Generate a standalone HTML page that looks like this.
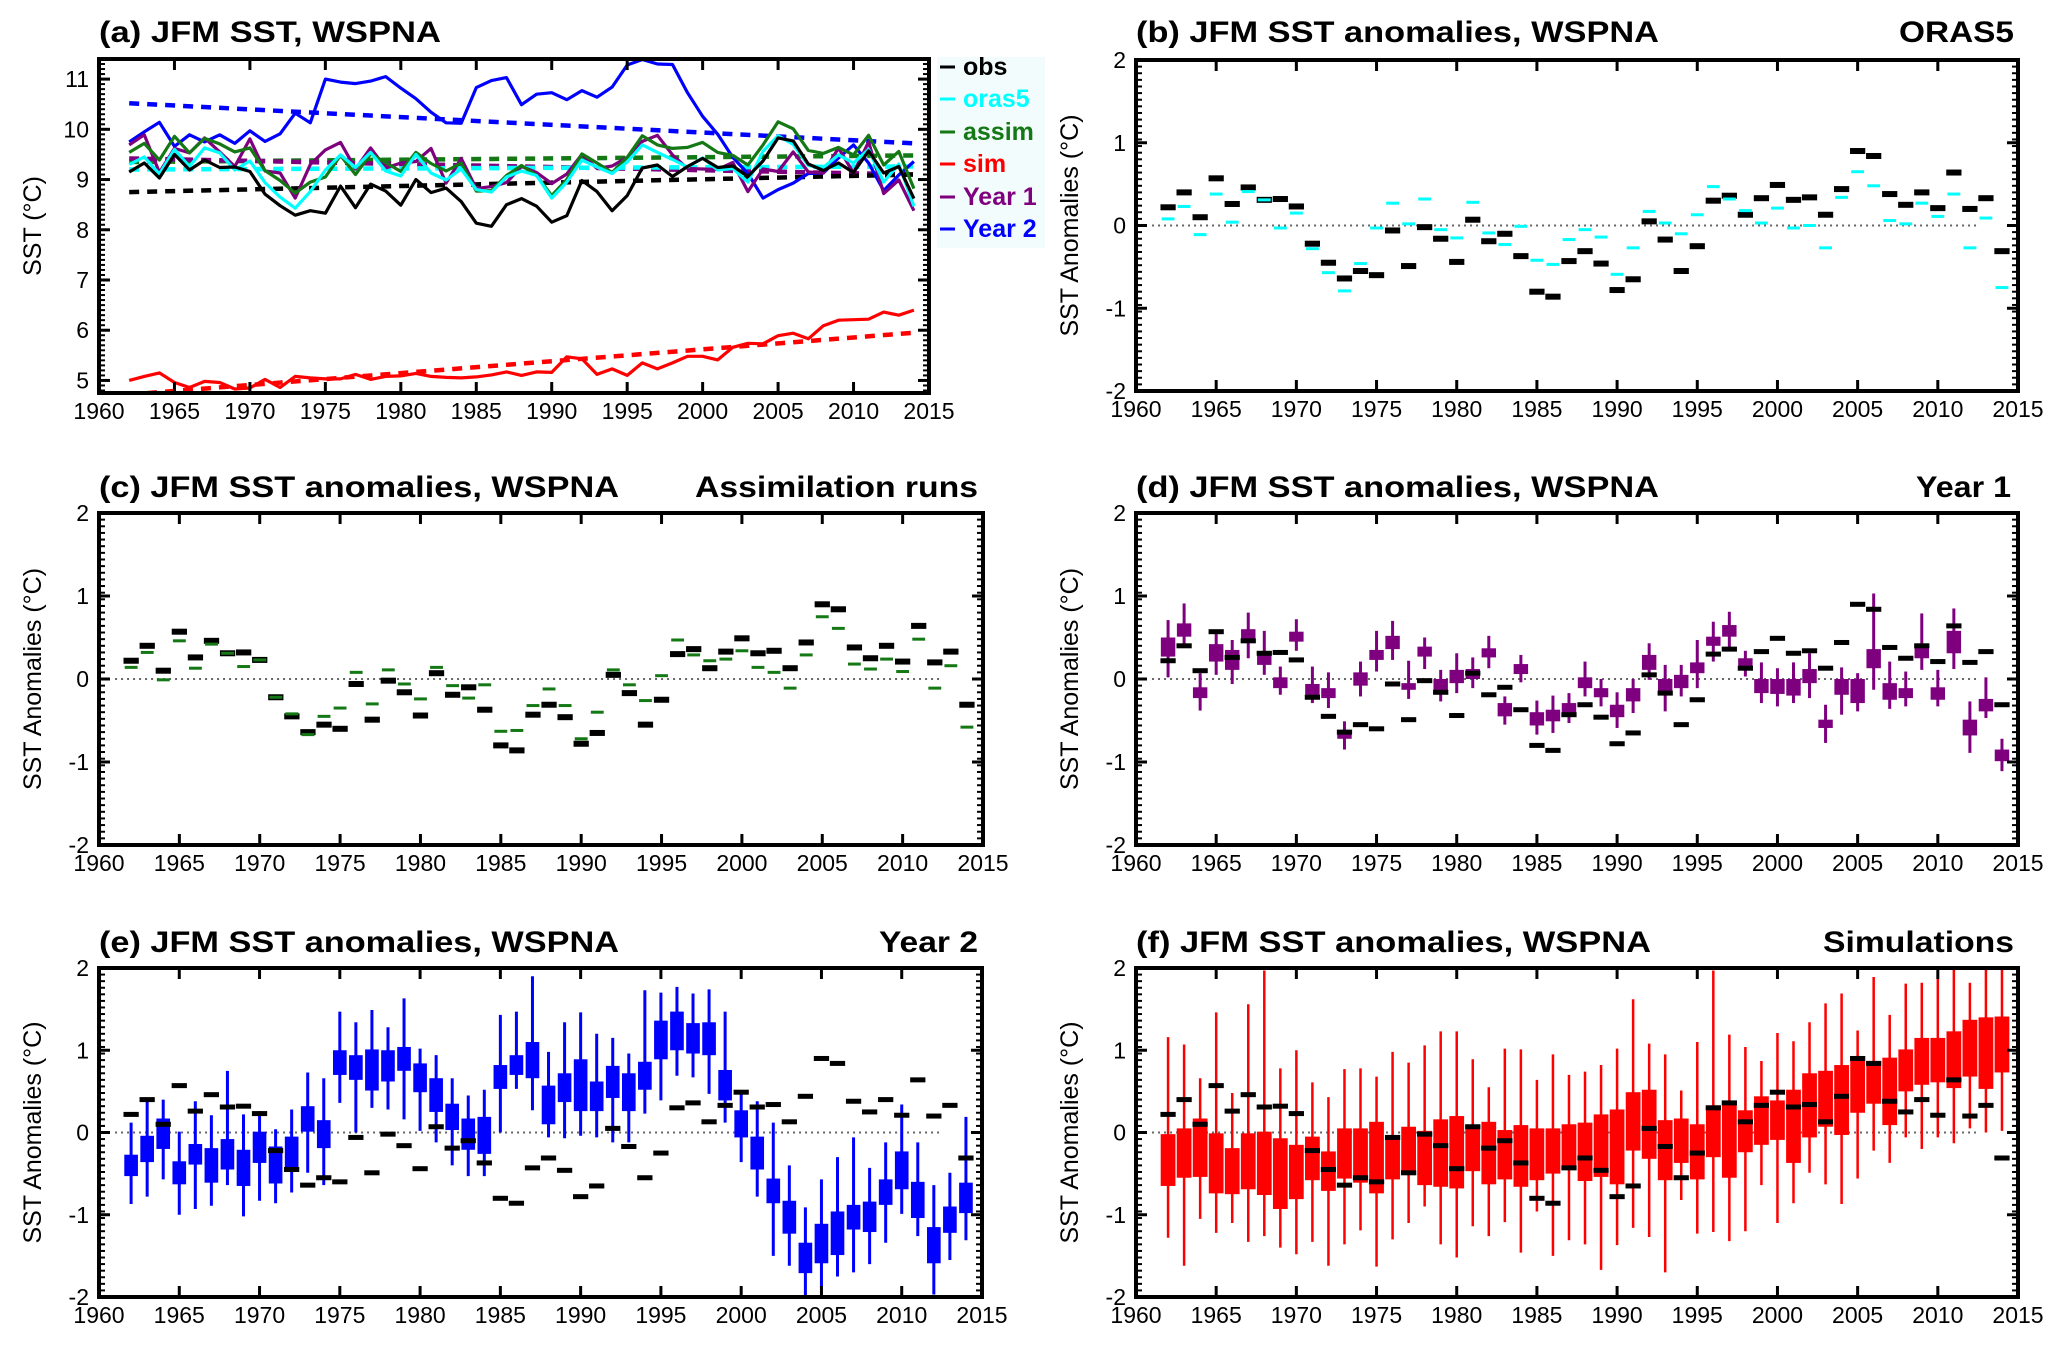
<!DOCTYPE html>
<html><head><meta charset="utf-8"><style>
html,body{margin:0;padding:0;background:#fff;}
svg{display:block;font-family:"Liberation Sans",Arial,sans-serif;}
</style></head><body>
<svg id="fig" width="2067" height="1348" viewBox="0 0 2067 1348" xmlns="http://www.w3.org/2000/svg"></svg>
<script>
// ---------- DATA ----------
const years = [];
for (let y = 1962; y <= 2014; y++) years.push(y);
const xTickLabels = ['1960','1965','1970','1975','1980','1985','1990','1995','2000','2005','2010','2015'];
const yTickLabelsA = ['5','6','7','8','9','10','11'];
const yTickLabelsAnom = ['-2','-1','0','1','2'];

// Panel (a) absolute SST (deg C)
const sstObs = [9.15,9.33,9.03,9.50,9.19,9.39,9.24,9.25,9.16, 8.71,8.48,8.29,8.38,8.33,8.87,8.44,8.91,8.77,8.49, 9.00,8.74,8.83,8.56,8.13,8.07,8.50,8.62,8.47,8.15, 8.28,8.98,8.76,8.38,8.68,9.23,9.29,9.06,9.26,9.42, 9.24,9.27,9.06,9.37,9.83,9.77,9.31,9.18,9.33,9.14, 9.57,9.13,9.26,8.62];
const sstOras5 = [9.30,9.45,9.11,9.60,9.26,9.63,9.53,9.19,9.37, 8.94,8.65,8.43,8.76,9.19,9.49,9.24,9.54,9.17,9.07, 9.50,9.13,8.99,9.21,8.80,8.75,9.05,9.17,9.08,8.63, 8.95,9.39,9.25,9.12,9.35,9.69,9.54,9.40,9.25,9.43, 9.19,9.22,8.95,9.56,9.87,9.70,9.28,9.24,9.49,9.33, 9.60,8.95,9.31,8.47];
const sstAssim = [9.54,9.72,9.39,9.86,9.53,9.82,9.71,9.55,9.63, 9.18,8.98,8.73,8.95,9.05,9.48,9.10,9.51,9.34,9.16, 9.54,9.32,9.17,9.33,8.77,8.78,9.08,9.28,9.08,8.68, 9.00,9.51,9.33,9.14,9.44,9.87,9.69,9.62,9.64,9.74, 9.54,9.48,9.29,9.69,10.15,10.01,9.58,9.52,9.64,9.49, 9.88,9.29,9.56,8.82];
const sstSim = [5.00,5.08,5.15,4.96,4.86,4.98,4.96,4.83,4.85, 5.02,4.86,5.08,5.05,5.03,5.03,5.12,5.02,5.08,5.09, 5.14,5.08,5.06,5.05,5.07,5.11,5.17,5.10,5.17,5.16, 5.47,5.43,5.12,5.23,5.10,5.35,5.23,5.35,5.48,5.48, 5.41,5.66,5.74,5.73,5.89,5.94,5.83,6.09,6.20,6.21, 6.22,6.36,6.30,6.40];
const sstYear1 = [9.69,9.89,9.14,9.62,9.53,9.83,9.55,9.26,9.81, 9.17,9.13,8.63,9.30,9.59,9.74,9.21,9.63,9.23,9.33, 9.36,9.62,8.93,9.42,8.82,8.86,8.94,9.26,9.14,8.92, 9.11,9.50,9.22,9.27,9.44,9.76,9.88,9.49,9.22,9.21, 9.20,9.34,8.76,9.21,9.16,9.55,9.15,9.13,9.63,9.13, 9.75,8.72,8.99,8.38];
const sstYear2 = [9.75,9.95,10.14,9.66,9.89,9.75,9.89,9.72,9.97, 9.76,9.91,10.32,10.13,11.00,10.94,10.91,10.96,11.05,10.82, 10.61,10.34,10.13,10.12,10.83,10.97,11.03,10.49,10.70,10.73, 10.59,10.77,10.64,10.84,11.28,11.39,11.30,11.29,10.73,10.26, 9.90,9.44,9.12,8.63,8.80,8.93,9.12,9.13,9.43,9.69, 9.33,8.78,9.09,9.36];
// linear trend endpoints (1962, 2014)
const trendObs = [8.75, 9.10];
const trendOras5 = [9.20, 9.26];
const trendAssim = [9.35, 9.48];
const trendSim = [4.72, 5.95];
const trendYear1 = [9.42, 9.10];
const trendYear2 = [10.52, 9.72];

// Anomalies
const anomObs = [0.22,0.40,0.10,0.57,0.26,0.46,0.31,0.32,0.23,-0.22,-0.45,-0.64,-0.55,-0.60,-0.06,-0.49,-0.02,-0.16,-0.44,0.07,-0.19,-0.10,-0.37,-0.80,-0.86,-0.43,-0.31,-0.46,-0.78,-0.65,0.05,-0.17,-0.55,-0.25,0.30,0.36,0.13,0.33,0.49,0.31,0.34,0.13,0.44,0.90,0.84,0.38,0.25,0.40,0.21,0.64,0.20,0.33,-0.31];
const anomOras5 = [0.08,0.23,-0.11,0.38,0.04,0.41,0.31,-0.03,0.15,-0.28,-0.57,-0.79,-0.46,-0.03,0.27,0.02,0.32,-0.05,-0.15,0.28,-0.09,-0.23,-0.01,-0.42,-0.47,-0.17,-0.05,-0.14,-0.59,-0.27,0.17,0.03,-0.10,0.13,0.47,0.32,0.18,0.03,0.21,-0.03,0.00,-0.27,0.34,0.65,0.48,0.06,0.02,0.27,0.11,0.38,-0.27,0.09,-0.75];
const anomAssim = [0.14,0.32,-0.01,0.46,0.13,0.42,0.31,0.15,0.23,-0.22,-0.42,-0.67,-0.45,-0.35,0.08,-0.30,0.11,-0.06,-0.24,0.14,-0.08,-0.23,-0.07,-0.63,-0.62,-0.32,-0.12,-0.32,-0.72,-0.40,0.11,-0.07,-0.26,0.04,0.47,0.29,0.22,0.24,0.34,0.14,0.08,-0.11,0.29,0.75,0.61,0.18,0.12,0.24,0.09,0.48,-0.11,0.16,-0.58];

// Year 1 ensemble: box top, box bottom, whisker top, whisker bottom
const y1BoxHi = [0.50,0.67,-0.10,0.42,0.35,0.60,0.33,0.02,0.57,-0.06,-0.11,-0.62,0.08,0.35,0.52,-0.05,0.39,0.00,0.11,0.12,0.37,-0.29,0.18,-0.40,-0.37,-0.29,0.02,-0.11,-0.31,-0.11,0.29,0.00,0.05,0.20,0.51,0.65,0.25,0.00,0.00,0.00,0.12,-0.49,0.00,0.00,0.36,-0.05,-0.11,0.41,-0.10,0.58,-0.49,-0.24,-0.85];
const y1BoxLo = [0.27,0.51,-0.23,0.21,0.11,0.46,0.17,-0.11,0.45,-0.21,-0.23,-0.72,-0.08,0.23,0.36,-0.13,0.27,-0.15,-0.05,0.00,0.26,-0.45,0.06,-0.56,-0.51,-0.43,-0.11,-0.22,-0.46,-0.27,0.11,-0.17,-0.11,0.07,0.40,0.51,0.13,-0.17,-0.18,-0.20,-0.05,-0.59,-0.19,-0.29,0.13,-0.25,-0.23,0.25,-0.25,0.31,-0.68,-0.39,-0.99];
const y1WhHi = [0.71,0.91,0.07,0.59,0.47,0.80,0.58,0.15,0.72,0.15,0.08,-0.51,0.21,0.58,0.70,0.22,0.50,0.11,0.31,0.26,0.52,-0.21,0.29,-0.26,-0.20,-0.17,0.21,0.00,-0.16,0.00,0.43,0.17,0.17,0.47,0.69,0.81,0.34,0.20,0.13,0.20,0.31,-0.31,0.14,0.07,1.03,0.21,0.09,0.79,0.11,0.85,-0.27,0.02,-0.72];
const y1WhLo = [0.02,0.41,-0.38,0.05,-0.06,0.25,0.05,-0.19,0.34,-0.29,-0.35,-0.85,-0.21,0.09,0.23,-0.24,0.12,-0.27,-0.17,-0.11,0.13,-0.55,-0.04,-0.67,-0.65,-0.53,-0.21,-0.33,-0.59,-0.41,-0.01,-0.39,-0.21,-0.11,0.21,0.36,0.03,-0.29,-0.33,-0.29,-0.23,-0.77,-0.43,-0.39,-0.13,-0.36,-0.33,0.11,-0.33,0.12,-0.89,-0.47,-1.11];

// Year 2 ensemble
const y2BoxHi = [-0.27,-0.04,0.17,-0.35,-0.14,-0.19,-0.08,-0.21,0.01,-0.17,-0.05,0.32,0.15,1.00,0.94,1.01,1.00,1.04,0.84,0.66,0.35,0.17,0.19,0.82,0.94,1.10,0.57,0.72,0.89,0.62,0.81,0.72,0.86,1.36,1.47,1.33,1.34,0.76,0.27,-0.05,-0.56,-0.83,-1.34,-1.11,-0.96,-0.88,-0.84,-0.57,-0.23,-0.60,-1.15,-0.90,-0.61];
const y2BoxLo = [-0.53,-0.36,-0.20,-0.63,-0.39,-0.61,-0.45,-0.65,-0.37,-0.62,-0.44,0.01,-0.19,0.70,0.64,0.51,0.62,0.75,0.49,0.25,0.03,-0.21,-0.26,0.53,0.70,0.66,0.10,0.37,0.26,0.26,0.42,0.26,0.52,0.89,1.00,0.96,0.94,0.39,-0.06,-0.45,-0.86,-1.23,-1.71,-1.59,-1.49,-1.18,-1.21,-0.88,-0.69,-1.04,-1.59,-1.22,-0.98];
const y2WhHi = [0.12,0.38,0.40,0.01,0.38,0.21,0.75,0.22,0.26,0.04,0.28,0.73,0.66,1.47,1.34,1.49,1.28,1.63,1.02,0.94,0.66,0.45,0.52,1.43,1.47,1.90,0.98,1.34,1.46,1.20,1.15,0.96,1.73,1.70,1.77,1.69,1.74,1.47,0.51,0.38,0.12,-0.40,-0.91,-0.57,-0.30,-0.06,-0.43,-0.12,0.34,-0.12,-0.64,-0.49,0.19];
const y2WhLo = [-0.87,-0.78,-0.57,-1.00,-0.93,-0.89,-0.64,-1.02,-0.83,-0.86,-0.73,-0.49,-0.64,0.36,0.00,0.30,0.28,0.16,0.02,-0.12,-0.40,-0.53,-0.53,0.00,0.53,0.27,-0.06,-0.07,-0.04,-0.06,-0.12,-0.12,0.23,0.39,0.69,0.67,0.47,0.12,-0.36,-0.78,-1.50,-1.62,-1.99,-1.88,-1.75,-1.70,-1.60,-1.34,-0.99,-1.26,-1.97,-1.55,-1.31];

// Simulations ensemble
const simBoxHi = [-0.02,0.05,0.17,-0.01,-0.19,-0.01,0.01,-0.07,-0.15,-0.05,-0.23,0.05,0.05,0.13,-0.03,0.07,0.02,0.16,0.20,0.08,0.13,0.03,0.09,0.05,0.05,0.10,0.12,0.22,0.28,0.49,0.52,0.15,0.17,0.10,0.33,0.35,0.27,0.44,0.39,0.52,0.72,0.75,0.82,0.87,0.87,0.91,1.01,1.15,1.15,1.23,1.37,1.40,1.41];
const simBoxLo = [-0.65,-0.55,-0.54,-0.74,-0.75,-0.69,-0.76,-0.93,-0.81,-0.58,-0.71,-0.56,-0.61,-0.74,-0.57,-0.50,-0.64,-0.66,-0.68,-0.47,-0.63,-0.57,-0.66,-0.58,-0.50,-0.42,-0.59,-0.54,-0.63,-0.22,-0.32,-0.58,-0.37,-0.57,-0.30,-0.55,-0.24,-0.15,-0.09,-0.37,-0.06,0.07,-0.03,0.24,0.35,0.09,0.50,0.58,0.61,0.54,0.68,0.53,0.73];
const simWhHi = [1.16,1.07,0.66,1.46,0.48,1.56,1.97,0.78,1.00,0.61,0.43,0.77,0.78,0.68,0.98,0.85,1.06,1.23,1.23,0.89,0.55,1.02,1.01,0.64,0.95,0.70,0.74,0.82,1.02,1.62,1.08,0.95,0.51,1.10,1.97,1.19,1.04,0.87,1.21,1.11,1.34,1.57,1.69,1.24,1.89,1.43,1.81,1.82,1.97,2.00,1.82,2.00,2.00];
const simWhLo = [-1.28,-1.62,-1.05,-1.22,-1.10,-1.33,-1.26,-1.40,-1.48,-1.33,-1.62,-1.36,-1.19,-1.63,-1.30,-1.10,-0.90,-1.36,-1.52,-1.14,-1.26,-1.09,-1.46,-0.96,-1.50,-1.31,-1.36,-1.67,-1.37,-1.16,-1.27,-1.70,-0.82,-1.23,-1.21,-1.32,-1.20,-0.64,-1.10,-0.86,-0.49,-0.63,-0.87,-0.56,-0.22,-0.37,-0.06,-0.20,-0.06,-0.13,0.05,0.00,0.02];

// ---------- DRAWING ----------
const NS = 'http://www.w3.org/2000/svg';
const svg = document.getElementById('fig');
function el(tag, attrs, parent) {
  const e = document.createElementNS(NS, tag);
  for (const k in attrs) e.setAttribute(k, attrs[k]);
  (parent || svg).appendChild(e);
  return e;
}
function makePanel(id, x0, x1, y0, y1, ymin, ymax, minorStep, yLabels, yLabelVals, yTitle) {
  const g = el('g', {});
  
  
  const sx = v => x0 + (v - 1960) / 55 * (x1 - x0);
  const sy = v => y1 - (v - ymin) / (ymax - ymin) * (y1 - y0);
  const clipId = 'clip-' + id;
  const cp = el('clipPath', {id: clipId}, g);
  el('rect', {x: x0, y: y0, width: x1 - x0, height: y1 - y0}, cp);
  const plot = el('g', {'clip-path': 'url(#' + clipId + ')'}, g);
  
  
  const ax = el('g', {}, g);
  
  
  const start = Math.ceil(ymin / minorStep);
  for (let k = start; k * minorStep <= ymax + 1e-9; k++) {
    const yy = sy(k * minorStep);
    el('line', {x1: x0, x2: x0 + 6, y1: yy, y2: yy, stroke: '#000', 'stroke-width': 2}, ax);
    el('line', {x1: x1, x2: x1 - 6, y1: yy, y2: yy, stroke: '#000', 'stroke-width': 2}, ax);
  }
  yLabelVals.forEach((v, i) => {
    const yy = sy(v);
    el('line', {x1: x0, x2: x0 + 11, y1: yy, y2: yy, stroke: '#000', 'stroke-width': 3}, ax);
    el('line', {x1: x1, x2: x1 - 11, y1: yy, y2: yy, stroke: '#000', 'stroke-width': 3}, ax);
    const t = el('text', {x: x0 - 10, y: yy + 8, 'text-anchor': 'end', 'font-size': 23}, ax);
    
    
    t.textContent = yLabels[i];
  });
  xTickLabels.forEach((lab, i) => {
    const v = 1960 + i * 5;
    const xx = sx(v);
    el('line', {x1: xx, x2: xx, y1: y1, y2: y1 - 11, stroke: '#000', 'stroke-width': 3}, ax);
    el('line', {x1: xx, x2: xx, y1: y0, y2: y0 + 11, stroke: '#000', 'stroke-width': 3}, ax);
    const t = el('text', {x: xx, y: y1 + 26, 'text-anchor': 'middle', 'font-size': 23}, ax);
    
    
    t.textContent = lab;
  });
  el('rect', {x: x0, y: y0, width: x1 - x0, height: y1 - y0, fill: 'none', stroke: '#000', 'stroke-width': 4}, ax);
  const yt = el('text', {x: 0, y: 0, 'text-anchor': 'middle', 'font-size': 25,
    transform: 'translate(' + (x0 - 58) + ',' + ((y0 + y1) / 2) + ') rotate(-90)'}, g);
  
  
  yt.textContent = yTitle;
  return {g, plot, sx, sy, x0, x1, y0, y1};
}
function title(x, y, txt, len, anchor, name) {
  const t = el('text', {x: x, y: y, 'font-size': 30, 'font-weight': 'bold', 'text-anchor': anchor || 'start',
    textLength: len, lengthAdjust: 'spacingAndGlyphs'});
  
  
  t.textContent = txt;
}

// ---- Panel (a)
const A = makePanel('a', 99, 929, 59, 393, 4.75, 11.4, 0.1, yTickLabelsA, [5,6,7,8,9,10,11], 'SST (°C)');
title(99, 42, '(a)  JFM SST, WSPNA', 342, 'start', 'panel-a-title');
function trend(p, arr, color, name) {
  const l = el('line', {x1: p.sx(1962), x2: p.sx(2014), y1: p.sy(arr[0]), y2: p.sy(arr[1]),
    stroke: color, 'stroke-width': 4.5, 'stroke-dasharray': '10 8'}, p.plot);
  
  
}
function series(p, arr, color, name) {
  const pts = arr.map((v, i) => p.sx(years[i]).toFixed(1) + ',' + p.sy(v).toFixed(1)).join(' ');
  const l = el('polyline', {points: pts, fill: 'none', stroke: color, 'stroke-width': 3.2, 'stroke-linejoin': 'round'}, p.plot);
  
  
}
const C_OBS = '#000', C_ORAS = '#00ffff', C_ASSIM = '#147814', C_SIM = '#ff0000', C_Y1 = '#7f007f', C_Y2 = '#0000ff';
trend(A, trendYear2, C_Y2, 'trend-year2');
trend(A, trendAssim, C_ASSIM, 'trend-assim');
trend(A, trendYear1, C_Y1, 'trend-year1');
trend(A, trendOras5, C_ORAS, 'trend-oras5');
trend(A, trendObs, C_OBS, 'trend-obs');
trend(A, trendSim, C_SIM, 'trend-sim');
series(A, sstYear2, C_Y2, 'line-year2');
series(A, sstYear1, C_Y1, 'line-year1');
series(A, sstAssim, C_ASSIM, 'line-assim');
series(A, sstOras5, C_ORAS, 'line-oras5');
series(A, sstObs, C_OBS, 'line-obs');
series(A, sstSim, C_SIM, 'line-sim');
const lg = el('g', {});


el('rect', {x: 937, y: 57, width: 108, height: 191, fill: '#f3fcfc'}, lg);
const legNames = ['obs','oras5','assim','sim','Year 1','Year 2'];
const legColors = [C_OBS, C_ORAS, C_ASSIM, C_SIM, C_Y1, C_Y2];
const legBase = [75,107,140,172,205,237];
legNames.forEach((n, i) => {
  const e = el('g', {}, lg);
  
  
  el('line', {x1: 940, x2: 955, y1: legBase[i] - 8, y2: legBase[i] - 8, stroke: legColors[i], 'stroke-width': 3}, e);
  const t = el('text', {x: 963, y: legBase[i], 'font-size': 25, 'font-weight': 'bold', fill: legColors[i]}, e);
  t.textContent = n;
});

function zeroLine(p) {
  const l = el('line', {x1: p.sx(1961), x2: p.sx(2012.5), y1: p.sy(0), y2: p.sy(0), stroke: '#666', 'stroke-width': 2, 'stroke-dasharray': '2 4'}, p.plot);
  
  
}
function bars(p, arr, color, w, h, name) {
  const yw = (p.x1 - p.x0) / 55;
  arr.forEach((v, i) => {
    const r = el('rect', {x: p.sx(years[i]) - w * yw / 2, y: p.sy(v) - h / 2, width: w * yw, height: h, fill: color}, p.plot);
    
    
  });
}
function boxes(p, hi, lo, whHi, whLo, color, bw, ww, name) {
  const yw = (p.x1 - p.x0) / 55;
  years.forEach((yr, i) => {
    const cx = p.sx(yr);
    const g = el('g', {}, p.plot);
    
    
    el('line', {x1: cx, x2: cx, y1: p.sy(whHi[i]), y2: p.sy(whLo[i]), stroke: color, 'stroke-width': ww}, g);
    el('rect', {x: cx - bw * yw / 2, y: p.sy(hi[i]), width: bw * yw, height: Math.max(2, p.sy(lo[i]) - p.sy(hi[i])), fill: color}, g);
  });
}
const ANOM = 'SST Anomalies (°C)';
const B = makePanel('b', 1136, 2018, 60, 391, -2, 2, 0.08, yTickLabelsAnom, [-2,-1,0,1,2], ANOM);
title(1136, 42, '(b)  JFM SST anomalies, WSPNA', 523, 'start', 'panel-b-title');
title(2014, 42, 'ORAS5', 115, 'end', 'panel-b-label');
zeroLine(B);
bars(B, anomObs, '#000', 0.95, 6, 'obs-bar');
bars(B, anomOras5, C_ORAS, 0.8, 3, 'oras5-bar');

const Cp = makePanel('c', 99, 983, 513, 845, -2, 2, 0.08, yTickLabelsAnom, [-2,-1,0,1,2], ANOM);
title(99, 497, '(c)  JFM SST anomalies, WSPNA', 520, 'start', 'panel-c-title');
title(978, 497, 'Assimilation runs', 283, 'end', 'panel-c-label');
zeroLine(Cp);
bars(Cp, anomObs, '#000', 0.95, 6, 'obs-bar');
bars(Cp, anomAssim, C_ASSIM, 0.8, 3, 'assim-bar');

const D = makePanel('d', 1136, 2018, 513, 845, -2, 2, 0.08, yTickLabelsAnom, [-2,-1,0,1,2], ANOM);
title(1136, 497, '(d)  JFM SST anomalies, WSPNA', 523, 'start', 'panel-d-title');
title(2011, 497, 'Year 1', 95, 'end', 'panel-d-label');
zeroLine(D);
boxes(D, y1BoxHi, y1BoxLo, y1WhHi, y1WhLo, C_Y1, 0.9, 3, 'year1-box');
bars(D, anomObs, '#000', 0.95, 5, 'obs-bar');

const E = makePanel('e', 99, 982, 968, 1297, -2, 2, 0.08, yTickLabelsAnom, [-2,-1,0,1,2], ANOM);
title(99, 952, '(e)  JFM SST anomalies, WSPNA', 520, 'start', 'panel-e-title');
title(978, 952, 'Year 2', 99, 'end', 'panel-e-label');
zeroLine(E);
boxes(E, y2BoxHi, y2BoxLo, y2WhHi, y2WhLo, C_Y2, 0.85, 3, 'year2-box');
bars(E, anomObs, '#000', 0.95, 5, 'obs-bar');

const F = makePanel('f', 1136, 2018, 968, 1297, -2, 2, 0.08, yTickLabelsAnom, [-2,-1,0,1,2], ANOM);
title(1136, 952, '(f)  JFM SST anomalies, WSPNA', 515, 'start', 'panel-f-title');
title(2014, 952, 'Simulations', 191, 'end', 'panel-f-label');
zeroLine(F);
boxes(F, simBoxHi, simBoxLo, simWhHi, simWhLo, C_SIM, 0.92, 2.5, 'sim-box');
bars(F, anomObs, '#000', 0.95, 5, 'obs-bar');
</script>
</body></html>
